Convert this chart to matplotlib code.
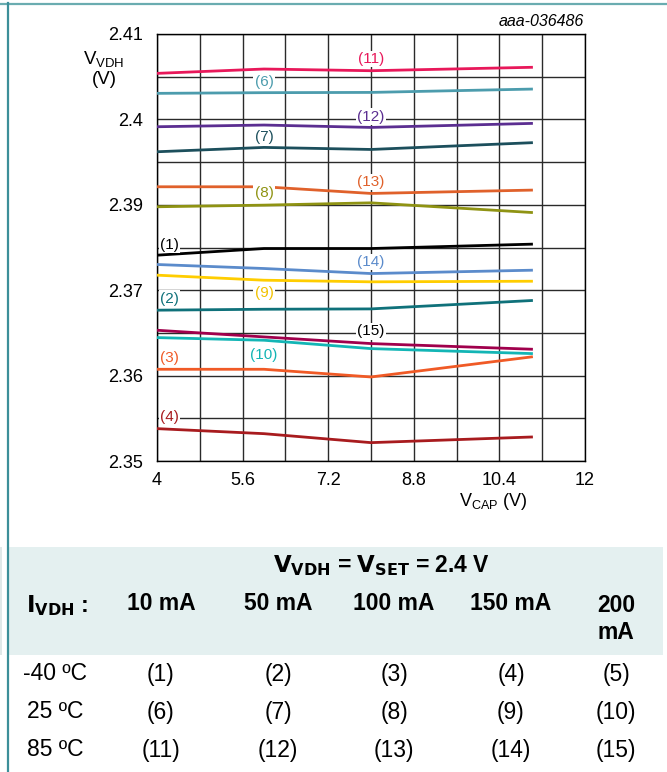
import matplotlib
matplotlib.use("Agg")
import matplotlib.pyplot as plt
from matplotlib.patches import Rectangle
from matplotlib.lines import Line2D

plt.rcParams['font.family'] = ['Liberation Sans', 'DejaVu Sans']
plt.rcParams['mathtext.default'] = 'regular'

# ---------------- data ----------------
v_cap = [4, 6, 8, 11]

curve_ids = [11, 6, 12, 7, 13, 8, 1, 14, 9, 2, 15, 10, 3, 4]
v11 = [2.40539, 2.40590, 2.40570, 2.40610]
v6 = [2.40305, 2.40313, 2.40316, 2.40355]
v12 = [2.39914, 2.39934, 2.39906, 2.39953]
v7 = [2.39621, 2.39672, 2.39648, 2.39727]
v13 = [2.39211, 2.39211, 2.39133, 2.39172]
v8 = [2.38977, 2.38996, 2.39023, 2.38910]
v1 = [2.38410, 2.38488, 2.38488, 2.38539]
v14 = [2.38301, 2.38254, 2.38195, 2.38234]
v9 = [2.38176, 2.38117, 2.38098, 2.38105]
v2 = [2.37766, 2.37777, 2.37781, 2.37879]
v15 = [2.37531, 2.37453, 2.37375, 2.37309]
v10 = [2.37445, 2.37414, 2.37316, 2.37258]
v3 = [2.37074, 2.37074, 2.36984, 2.37219]
v4 = [2.36379, 2.36320, 2.36215, 2.36281]
series = {11: v11, 6: v6, 12: v12, 7: v7, 13: v13, 8: v8, 1: v1,
          14: v14, 9: v9, 2: v2, 15: v15, 10: v10, 3: v3, 4: v4}

line_colors = {11: '#E8185A', 6: '#4C9CAD', 12: '#5B2E91', 7: '#1C4F5C',
               13: '#E0612B', 8: '#8F9313', 1: '#000000', 14: '#5B8BCB',
               9: '#FFCD00', 2: '#0F717A', 15: '#A0004C', 10: '#13B5B5',
               3: '#F05A26', 4: '#A81B1E'}
label_colors = dict(line_colors)
label_colors[15] = '#000000'
label_colors[9] = '#F2C200'

# label anchor positions (x, y) in data coordinates
label_pos = {11: (8, 2.40708), 6: (6, 2.40442), 12: (8, 2.40033), 7: (6, 2.39799),
             13: (8, 2.39265), 8: (6, 2.39137), 1: (4.23, 2.38532), 14: (8, 2.38330),
             9: (6, 2.37967), 2: (4.23, 2.37901), 15: (8, 2.37518), 10: (6, 2.37246),
             3: (4.23, 2.37207), 4: (4.23, 2.36517)}

x_ticks = [4, 5.6, 7.2, 8.8, 10.4, 12]
x_tick_labels = ['4', '5.6', '7.2', '8.8', '10.4', '12']
y_ticks = [2.36, 2.37, 2.38, 2.39, 2.40, 2.41]
y_tick_labels = ['2.35', '2.36', '2.37', '2.39', '2.4', '2.41']

col_headers = ['10 mA', '50 mA', '100 mA', '150 mA', '200\nmA']
row_headers = ['-40 ºC', '25 ºC', '85 ºC']
table_ids = [[1, 2, 3, 4, 5], [6, 7, 8, 9, 10], [11, 12, 13, 14, 15]]

# ---------------- figure ----------------
W, H = 667, 772
fig = plt.figure(figsize=(W / 100, H / 100), dpi=100)
fig.patch.set_facecolor('white')


def fx(px):
    return px / W


def fy(py):
    return 1 - py / H


# table background
fig.add_artist(Rectangle((fx(8), fy(655)), fx(663) - fx(8), fy(547) - fy(655),
                         transform=fig.transFigure, facecolor='#E4F0F0',
                         edgecolor='none', zorder=0))
fig.add_artist(Rectangle((0, fy(655)), fx(1.8), fy(547) - fy(655),
                         transform=fig.transFigure, facecolor='#E0E8E8',
                         edgecolor='none', zorder=0))
# frame lines
fig.add_artist(Line2D([0, 1], [fy(4), fy(4)], transform=fig.transFigure,
                      color='#6AACB0', lw=1.6))
fig.add_artist(Line2D([fx(8), fx(8)], [0, fy(3)], transform=fig.transFigure,
                      color='#3C8F99', lw=1.6))

ax = fig.add_axes([fx(157), fy(461), fx(585) - fx(157), fy(34) - fy(461)])
ax.set_xlim(4, 12)
ax.set_ylim(2.36, 2.41)
ax.set_xticks(x_ticks)
ax.set_xticklabels(x_tick_labels)
ax.set_yticks(y_ticks)
ax.set_yticklabels(y_tick_labels)
ax.set_xticks([4.8, 6.4, 8.0, 9.6, 11.2], minor=True)
ax.set_yticks([2.365, 2.375, 2.385, 2.395, 2.405], minor=True)
ax.tick_params(which='both', length=0)
ax.tick_params(axis='y', pad=10, labelsize=13)
ax.tick_params(axis='x', pad=8, labelsize=13)
ax.grid(which='both', color='#2a2a2a', lw=1.0)
ax.set_axisbelow(True)
for s in ax.spines.values():
    s.set_color('black')
    s.set_linewidth(1.0)

for cid in curve_ids:
    ax.plot(v_cap, series[cid], color=line_colors[cid], lw=2.0,
            solid_joinstyle='round', zorder=3)

for cid in curve_ids:
    lx, ly = label_pos[cid]
    ax.text(lx, ly, f'({cid})', color=label_colors[cid], fontsize=11,
            ha='center', va='center', zorder=4,
            bbox=dict(boxstyle='square,pad=0.08', facecolor='white',
                      edgecolor='none'))

# axis labels
fig.text(fx(104), fy(59), r'$V_{VDH}$', fontsize=13.5, ha='center', va='center')
fig.text(fx(104), fy(80), '(V)', fontsize=13.5, ha='center', va='center')
fig.text(fx(493), fy(502), r'$V_{CAP}$ (V)', fontsize=13, ha='center', va='center')
fig.text(fx(584), fy(21), 'aaa-036486', fontsize=11.5, style='italic',
         ha='right', va='center')

# table text
fig.text(fx(382), fy(566), r'$\mathbf{V_{VDH}}$ = $\mathbf{V_{SET}}$ = 2.4 V',
         fontsize=16.5, fontweight='bold', ha='center', va='center')
fig.text(fx(26), fy(606), r'$\mathbf{I_{VDH}}$ :', fontsize=16.5,
         fontweight='bold', ha='left', va='center')
col_x = [161, 278, 394, 511, 616]
for cx, h in zip(col_x, col_headers):
    fig.text(fx(cx), fy(604) if '\n' not in h else fy(619), h, fontsize=16.5,
             fontweight='bold', ha='center', va='center', linespacing=1.25)
row_y = [674, 712, 750]
for ry, rh, ids in zip(row_y, row_headers, table_ids):
    fig.text(fx(55), fy(ry), rh, fontsize=16.5, ha='center', va='center')
    for cx, cid in zip(col_x, ids):
        fig.text(fx(cx), fy(ry), f'({cid})', fontsize=16.5, ha='center',
                 va='center')

fig.savefig('out.png', dpi=100)
